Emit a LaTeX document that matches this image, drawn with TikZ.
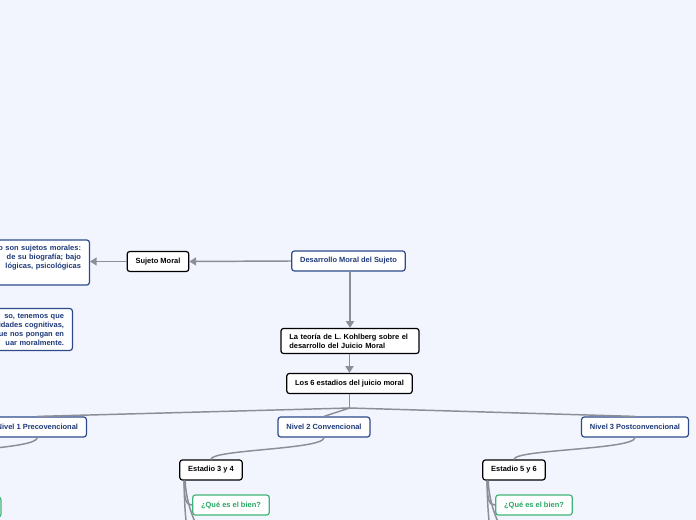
\documentclass[tikz,border=0pt]{standalone}
\usepackage{fontspec}
\setsansfont{Liberation Sans}
\usetikzlibrary{arrows.meta}
\definecolor{mapbg}{RGB}{242,245,254}
\definecolor{bluetext}{RGB}{30,57,120}
\definecolor{blueline}{RGB}{44,74,140}
\definecolor{greentext}{RGB}{36,168,98}
\definecolor{greenline}{RGB}{62,180,120}
\definecolor{linkgray}{RGB}{138,142,150}
\newcommand{\mapfont}{\sffamily\bfseries\fontsize{5.6}{6.6}\selectfont}
\tikzset{
  mapbox/.style={rounded corners=2pt, line width=0.9pt, fill=white, font=\mapfont, inner xsep=6.3pt, inner ysep=4pt, minimum height=15pt},
  bluebox/.style={mapbox, draw=blueline, text=bluetext},
  blackbox/.style={mapbox, draw=black, text=black},
  greenbox/.style={mapbox, draw=greenline, text=greentext},
  link/.style={draw=linkgray, line width=1.1pt},
  arrowlink/.style={link, -{Triangle[width=6pt,length=5pt]}}
}
\begin{document}
\begin{tikzpicture}[x=0.75pt,y=0.75pt,yscale=-1,xscale=1]
\useasboundingbox (0,0) rectangle (696,520);
\fill [mapbg] (0,0) rectangle (696,520);
\clip (0,0) rectangle (696,520);

% Main topic
\node [bluebox] (desarrollo) at (348.5,261) {Desarrollo Moral del Sujeto};
% Left branch
\node [blackbox] (sujeto) at (158,261.5) {Sujeto Moral};
\node [bluebox, anchor=east, text width=110pt, align=right] (seres) at (90,262.5) {o son sujetos morales:\\ de su biografía; bajo\\ lógicas, psicológicas\\ \strut};
\node [bluebox, anchor=east, text width=110pt, align=right] (capacidad) at (73,329.5) {so, tenemos que\\ lidades cognitivas,\\ ue nos pongan en\\ uar moralmente.};
% Kohlberg
\node [blackbox, text width=91pt, align=left] (teoria) at (350,341) {La teoría de L. Kohlberg sobre el\\ desarrollo del Juicio Moral};
\node [blackbox] (estadios) at (349.5,383.5) {Los 6 estadios del juicio moral};
% Niveles
\node [bluebox, anchor=east] (nivel1) at (87,427) {Nivel 1 Precovencional};
\node [bluebox] (nivel2) at (324,427) {Nivel 2 Convencional};
\node [bluebox] (nivel3) at (635,427) {Nivel 3 Postconvencional};
% Estadios
\node [blackbox] (estadio34) at (211,470) {Estadio 3 y 4};
\node [blackbox] (estadio56) at (514,470) {Estadio 5 y 6};
\node [greenbox, anchor=east] (bien12) at (1.5,507) {¿Qué es el bien?};
\node [greenbox] (bien34) at (231,505) {¿Qué es el bien?};
\node [greenbox] (bien56) at (534,505) {¿Qué es el bien?};

% off-page ends
\coordinate (fork) at (349.5,408);
\coordinate (estadio12) at (-75,460);
\coordinate (bajo34a) at (215,545);
\coordinate (bajo34b) at (215,590);
\coordinate (bajo56a) at (518,545);
\coordinate (bajo56b) at (518,590);

% Arrows
\draw [arrowlink] (desarrollo.west) -- (sujeto.east);
\draw [arrowlink] (sujeto.west) -- (sujeto.west -| seres.east);
\draw [arrowlink] (desarrollo.south -| teoria.north) -- (teoria.north);
\draw [arrowlink] (teoria.south -| estadios.north) -- (estadios.north);
% Tree lines
\draw [link] (estadios.south) -- (fork);
\draw [link] (fork) -- (nivel1.north);
\draw [link] (fork) -- (nivel2.north);
\draw [link] (fork) -- (nivel3.north);
\draw [link] (nivel1.south) .. controls +(0,12) and +(0,-10) .. (estadio12);
\draw [link] (nivel2.south) .. controls +(0,12) and +(0,-10) .. (estadio34.north);
\draw [link] (nivel3.south) .. controls +(0,12) and +(0,-10) .. (estadio56.north);
\draw [link] (estadio34.south west) ++(5,0) .. controls +(0,20) and +(-6,0) .. (bien34.west);
\draw [link] (estadio34.south west) ++(6,0) .. controls +(1,30) and +(-12,0) .. (bajo34a);
\draw [link] (estadio34.south west) ++(5,0) .. controls +(0,80) and +(-12,0) .. (bajo34b);
\draw [link] (estadio56.south west) ++(5,0) .. controls +(0,20) and +(-6,0) .. (bien56.west);
\draw [link] (estadio56.south west) ++(6,0) .. controls +(1,30) and +(-12,0) .. (bajo56a);
\draw [link] (estadio56.south west) ++(5,0) .. controls +(0,80) and +(-12,0) .. (bajo56b);

\end{tikzpicture}
\end{document}
